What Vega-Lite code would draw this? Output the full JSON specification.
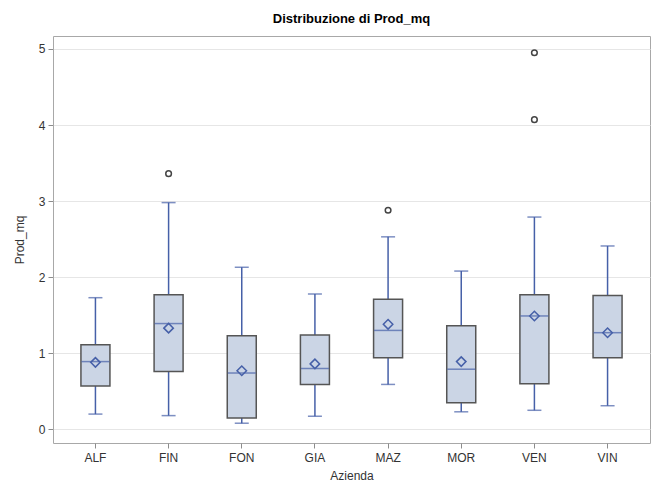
{
  "$schema": "https://vega.github.io/schema/vega-lite/v6.json",
  "autosize": "none",
  "width": 597,
  "height": 407,
  "padding": {"left": 53, "top": 36, "right": 3, "bottom": 43},
  "background": "white",
  "config": {
    "font": "Liberation Sans",
    "view": {"stroke": "#a8a8a8", "strokeWidth": 1},
    "axis": {"labelColor": "#333333", "titleColor": "#333333", "labelFontSize": 12, "titleFontSize": 12, "titleFontWeight": "normal", "tickColor": "#8c8c8c", "domain": false}
  },
  "title": {"text": "Distribuzione di Prod_mq", "fontSize": 13, "fontWeight": "bold", "color": "#000000", "offset": 10, "anchor": "middle"},
  "datasets": {
    "stats": [
      {"Azienda": "ALF", "lower": 0.20, "q1": 0.57, "median": 0.89, "q3": 1.11, "upper": 1.73, "mean": 0.88},
      {"Azienda": "FIN", "lower": 0.18, "q1": 0.76, "median": 1.39, "q3": 1.77, "upper": 2.98, "mean": 1.33},
      {"Azienda": "FON", "lower": 0.08, "q1": 0.15, "median": 0.74, "q3": 1.23, "upper": 2.13, "mean": 0.77},
      {"Azienda": "GIA", "lower": 0.17, "q1": 0.59, "median": 0.80, "q3": 1.24, "upper": 1.78, "mean": 0.86},
      {"Azienda": "MAZ", "lower": 0.59, "q1": 0.94, "median": 1.30, "q3": 1.71, "upper": 2.53, "mean": 1.38},
      {"Azienda": "MOR", "lower": 0.23, "q1": 0.35, "median": 0.79, "q3": 1.36, "upper": 2.08, "mean": 0.89},
      {"Azienda": "VEN", "lower": 0.25, "q1": 0.60, "median": 1.49, "q3": 1.77, "upper": 2.79, "mean": 1.49},
      {"Azienda": "VIN", "lower": 0.31, "q1": 0.94, "median": 1.27, "q3": 1.76, "upper": 2.41, "mean": 1.27}
    ],
    "outliers": [
      {"Azienda": "FIN", "Prod_mq": 3.36},
      {"Azienda": "MAZ", "Prod_mq": 2.88},
      {"Azienda": "VEN", "Prod_mq": 4.07},
      {"Azienda": "VEN", "Prod_mq": 4.95}
    ]
  },
  "encoding": {
    "x": {
      "field": "Azienda", "type": "nominal",
      "scale": {"domain": ["ALF", "FIN", "FON", "GIA", "MAZ", "MOR", "VEN", "VIN"], "paddingInner": 0, "paddingOuter": 0.08},
      "axis": {"title": "Azienda", "labelAngle": 0, "tickSize": 5, "labelPadding": 4, "titlePadding": 7, "grid": false}
    }
  },
  "layer": [
    {
      "data": {"name": "stats"},
      "mark": {"type": "rule", "color": "#4660a8", "strokeWidth": 1.5},
      "encoding": {
        "y": {"field": "lower", "type": "quantitative", "scale": {"domain": [-0.18, 5.17], "nice": false, "zero": false},
          "axis": {"title": "Prod_mq", "values": [0, 1, 2, 3, 4, 5], "format": "d", "grid": true, "gridColor": "#e6e6e6", "tickSize": 5, "labelPadding": 3, "titlePadding": 12}},
        "y2": {"field": "upper"}
      }
    },
    {
      "data": {"name": "stats"},
      "mark": {"type": "tick", "color": "#4660a8", "size": 14, "thickness": 1.5},
      "encoding": {"y": {"field": "lower", "type": "quantitative"}}
    },
    {
      "data": {"name": "stats"},
      "mark": {"type": "tick", "color": "#4660a8", "size": 14, "thickness": 1.5},
      "encoding": {"y": {"field": "upper", "type": "quantitative"}}
    },
    {
      "data": {"name": "stats"},
      "mark": {"type": "bar", "size": 29, "fill": "#cbd5e5", "stroke": "#555555", "strokeWidth": 1.5},
      "encoding": {"y": {"field": "q1", "type": "quantitative"}, "y2": {"field": "q3"}}
    },
    {
      "data": {"name": "stats"},
      "mark": {"type": "tick", "color": "#4660a8", "size": 28, "thickness": 1.5},
      "encoding": {"y": {"field": "median", "type": "quantitative"}}
    },
    {
      "data": {"name": "stats"},
      "mark": {"type": "point", "shape": "diamond", "filled": false, "color": "#4660a8", "size": 90, "strokeWidth": 1.5, "opacity": 1},
      "encoding": {"y": {"field": "mean", "type": "quantitative"}}
    },
    {
      "data": {"name": "outliers"},
      "mark": {"type": "point", "shape": "circle", "filled": false, "color": "#444444", "size": 32, "strokeWidth": 1.5, "opacity": 1},
      "encoding": {"y": {"field": "Prod_mq", "type": "quantitative"}}
    }
  ]
}
